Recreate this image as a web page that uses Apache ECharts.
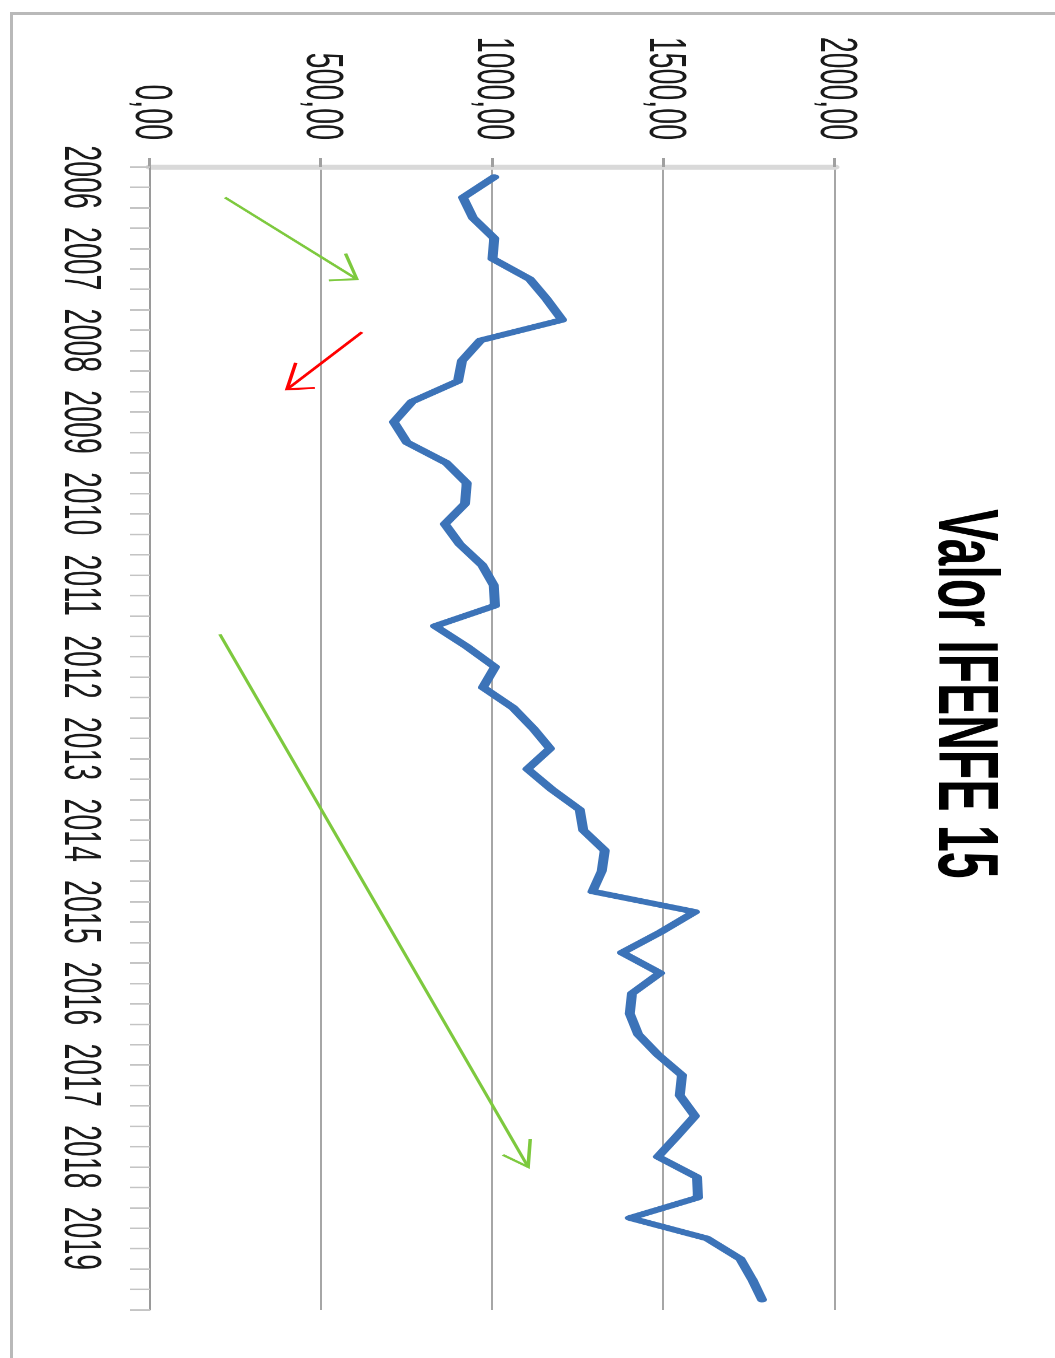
<!DOCTYPE html>
<html>
<head>
<meta charset="utf-8">
<script src="https://cdn.jsdelivr.net/npm/echarts@6/dist/echarts.min.js"></script>
<style>
  html, body { margin: 0; padding: 0; background: #ffffff; }
  body { width: 1055px; height: 1358px; overflow: hidden; position: relative; }
  #frame { position: absolute; left: 10px; top: 12px; width: 1100px; height: 1400px; z-index: 5;
           pointer-events: none; border-left: 3px solid #b9b9b9; border-top: 3px solid #b9b9b9; }
  #chart { position: absolute; left: 0; top: 0; width: 2425px; height: 1055px; z-index: 1;
           transform-origin: 0 0; transform: translate(1055px, 0) rotate(90deg) scale(0.56, 1); }
</style>
</head>
<body>
<div id="chart"></div>
<div id="frame"></div>
<script>
// ---- data ----
const chartTitle = 'Valor IFENFE 15';
const years = ['2006','2007','2008','2009','2010','2011','2012','2013','2014','2015','2016','2017','2018','2019'];
const quarters = ['T1','T2','T3','T4'];
const values = [
  1005, 914, 943, 1005,
  1000, 1109, 1159, 1203,
  965, 911, 899, 765,
  712, 750, 865, 925,
  920, 861, 905, 969,
  1004, 1007, 832, 925,
  1007, 972, 1060, 1118,
  1168, 1102, 1173, 1255,
  1265, 1328, 1319, 1292,
  1591, 1490, 1378, 1489,
  1407, 1401, 1425, 1483,
  1553, 1547, 1591, 1538,
  1483, 1597, 1600, 1401,
  1626, 1723, 1758, 1787
];
const valueTicks = [0, 500, 1000, 1500, 2000];
// hand-drawn arrows, in data units: [category position, value]
const arrowFrom = [[1.0, 219], [7.6, 619], [22.4, 204]];
const arrowTo   = [[5.0, 604], [10.4, 400], [48.5, 1104]];
const arrowColors = ['#7dc93e', '#ff0000', '#7dc93e'];

// ---- build ----
const categories = [];
years.forEach(function (y) { quarters.forEach(function (q) { categories.push(y + ' ' + q); }); });
const arrowData = arrowFrom.map(function (f, i) { return [f[0], f[1], arrowTo[i][0], arrowTo[i][1]]; });

const SX = 0.56;
const FONT = '"Liberation Sans", Arial, sans-serif';

function renderArrow(params, api) {
  const p0 = api.coord([api.value(0), api.value(1)]);
  const p1 = api.coord([api.value(2), api.value(3)]);
  const dx = (p1[0] - p0[0]) * SX, dy = p1[1] - p0[1];
  const len = Math.hypot(dx, dy);
  const ux = dx / len, uy = dy / len;
  const L = 28, ang = 0.6;
  function wing(sign) {
    const c = Math.cos(ang), s = Math.sin(ang) * sign;
    const wx = -(ux * c - uy * s) * L, wy = -(ux * s + uy * c) * L;
    return [p1[0] + wx / SX, p1[1] + wy];
  }
  const color = arrowColors[params.dataIndex];
  return {
    type: 'group',
    children: [
      { type: 'line', shape: { x1: p0[0], y1: p0[1], x2: p1[0], y2: p1[1] },
        style: { stroke: color, lineWidth: 3.5 } },
      { type: 'polyline', shape: { points: [wing(1), p1, wing(-1)] },
        style: { stroke: color, lineWidth: 3.5, fill: null } }
    ]
  };
}

const chart = echarts.init(document.getElementById('chart'), null, { renderer: 'canvas' });
chart.setOption({
  backgroundColor: '#ffffff',
  animation: false,
  graphic: [{
    type: 'text', x: 1239, y: 92,
    style: { text: chartTitle, font: 'bold 86px ' + FONT, fill: '#000000',
             textAlign: 'center', textVerticalAlign: 'middle' }
  }],
  grid: { left: 298, right: 86, top: 220, bottom: 150, containLabel: false },
  xAxis: [{
    type: 'category', data: categories, boundaryGap: true, position: 'bottom',
    axisLine: { show: true, onZero: false, lineStyle: { color: '#9a9a9a', width: 2 } },
    axisTick: { show: true, interval: 0, length: 20, lineStyle: { color: '#c4c4c4', width: 3 } },
    axisLabel: { interval: 3, fontSize: 51, fontFamily: FONT, color: '#1a1a1a', margin: 45,
                 formatter: function (v) { return v.slice(0, 4); } },
    splitLine: { show: false }
  }, {
    type: 'value', min: -0.5, max: 55.5, show: false
  }],
  yAxis: {
    type: 'value', min: valueTicks[0], max: valueTicks[valueTicks.length - 1], interval: 500,
    axisLine: { show: true, onZero: false, lineStyle: { color: '#d9d9d9', width: 9 } },
    axisTick: { show: true, length: 16, lineStyle: { color: '#a0a0a0', width: 3 } },
    splitLine: { show: true, lineStyle: { color: '#a6a6a6', width: 2 } },
    axisLabel: { fontSize: 51, fontFamily: FONT, color: '#1a1a1a', margin: 48,
                 formatter: function (v) { return v.toFixed(2).replace('.', ','); } }
  },
  series: [{
    type: 'line', name: chartTitle, data: values, xAxisIndex: 0, yAxisIndex: 0,
    showSymbol: false, symbol: 'none', smooth: false, z: 3,
    lineStyle: { color: '#3c73b8', width: 10, join: 'round', cap: 'round' }
  }, {
    type: 'custom', coordinateSystem: 'cartesian2d', xAxisIndex: 1, yAxisIndex: 0,
    data: arrowData, encode: { x: [0, 2], y: [1, 3] }, renderItem: renderArrow, z: 4, silent: true
  }]
});
</script>
</body>
</html>
